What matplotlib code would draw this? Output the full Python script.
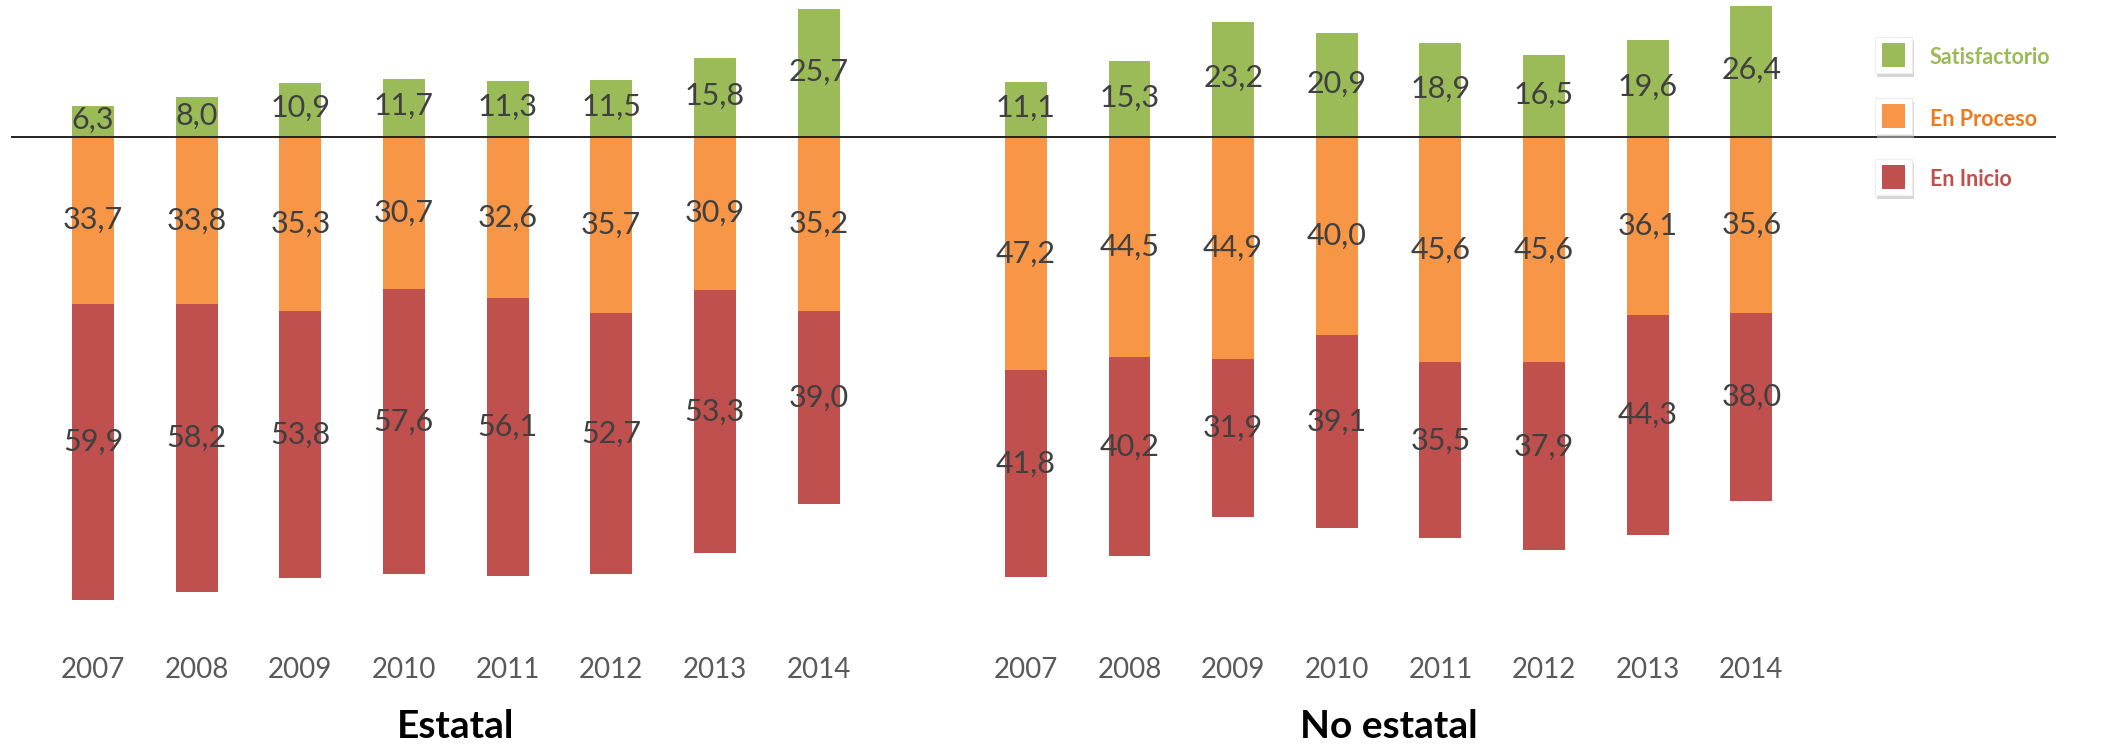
import numpy as np
import matplotlib.pyplot as plt
from matplotlib.patches import Rectangle

plt.rcParams['font.family'] = ['Lato', 'DejaVu Sans']

years = ['2007', '2008', '2009', '2010', '2011', '2012', '2013', '2014']
group_names = ['Estatal', 'No estatal']

estatal_satisf = [6.3, 8.0, 10.9, 11.7, 11.3, 11.5, 15.8, 25.7]
estatal_proceso = [33.7, 33.8, 35.3, 30.7, 32.6, 35.7, 30.9, 35.2]
estatal_inicio = [59.9, 58.2, 53.8, 57.6, 56.1, 52.7, 53.3, 39.0]

noestatal_satisf = [11.1, 15.3, 23.2, 20.9, 18.9, 16.5, 19.6, 26.4]
noestatal_proceso = [47.2, 44.5, 44.9, 40.0, 45.6, 45.6, 36.1, 35.6]
noestatal_inicio = [41.8, 40.2, 31.9, 39.1, 35.5, 37.9, 44.3, 38.0]

legend_labels = ['Satisfactorio', 'En Proceso', 'En Inicio']

GREEN = '#9BBB59'
ORANGE = '#F79646'
RED = '#C0504D'
LBL = '#404040'

W, H = 2115, 747
fig = plt.figure(figsize=(W / 100, H / 100), dpi=100)
ax = fig.add_axes([0, 0, 1, 1])

spacing = 103.65   # px between bar centres
ppu = 4.95         # px per percent unit
x0 = 93            # px centre of first bar
base = 136.7       # px from top of zero line

ax.set_xlim(-x0 / spacing, (W - x0) / spacing)
ax.set_ylim(-(H - base) / ppu, base / ppu)
ax.axis('off')

def fmt(v):
    return f"{v:.1f}".replace('.', ',')

groups = [
    (np.arange(8), estatal_satisf, estatal_proceso, estatal_inicio),
    (np.arange(8) + 9, noestatal_satisf, noestatal_proceso, noestatal_inicio),
]

bw = 0.405
for k, (xs, sat, pro, ini) in enumerate(groups):
    sat = np.array(sat)
    pro = np.array(pro)
    ini = np.array(ini)
    ax.bar(xs, sat, bw, bottom=0, color=GREEN, edgecolor='none')
    ax.bar(xs, pro, bw, bottom=-pro, color=ORANGE, edgecolor='none')
    ax.bar(xs, ini, bw, bottom=-pro - ini, color=RED, edgecolor='none')
    for x, s, p, i, yr in zip(xs, sat, pro, ini, years):
        ax.text(x, s / 2 + 0.3, fmt(s), ha='center', va='center', fontsize=22, color=LBL)
        ax.text(x, -p / 2, fmt(p), ha='center', va='center', fontsize=22, color=LBL)
        ax.text(x, -p - i / 2 + 2.0, fmt(i), ha='center', va='center', fontsize=22, color=LBL)
        ax.text(x, -(670 - base) / ppu, yr, ha='center', va='center', fontsize=20, color='#595959')
    ax.text(xs.mean(), -(727 - base) / ppu, group_names[k], ha='center', va='center',
            fontsize=28, fontweight='bold', color='black')

ax.axhline(0, xmin=12 / W, xmax=2055 / W, color='#222222', lw=1.4)

# legend drawn by hand (boxed squares with shadow)
def fx(px):
    return px / W

def fy(py):
    return 1 - py / H

leg_colors = [GREEN, ORANGE, RED]
text_colors = [GREEN, '#EE7A1E', RED]
for j, (lab, c, tc) in enumerate(zip(legend_labels, leg_colors, text_colors)):
    cy = 55 + j * 61
    fig.patches.append(Rectangle((fx(1877), fy(cy + 22)), 37 / W, 36 / H,
                                 transform=fig.transFigure, facecolor='#bbbbbb',
                                 edgecolor='none', alpha=0.6, zorder=1))
    fig.patches.append(Rectangle((fx(1875), fy(cy + 18)), 37 / W, 36 / H,
                                 transform=fig.transFigure, facecolor='white',
                                 edgecolor='#eeeeee', lw=0.8, zorder=2))
    fig.patches.append(Rectangle((fx(1882), fy(cy + 11.5)), 23 / W, 23 / H,
                                 transform=fig.transFigure, facecolor=c,
                                 edgecolor='none', zorder=3))
    fig.text(fx(1930), fy(cy + 3), lab, ha='left', va='center', fontsize=15.5,
             fontweight='bold', color=tc)

fig.savefig('out.png', dpi=100)
